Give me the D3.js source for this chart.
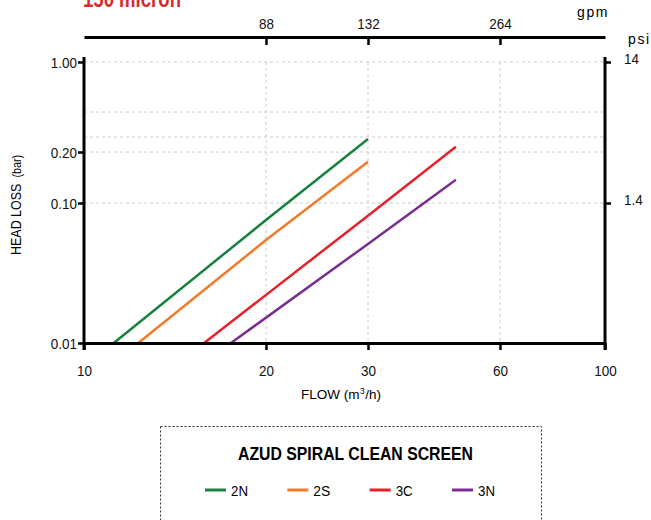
<!DOCTYPE html>
<html><head><meta charset="utf-8">
<script src="https://cdn.jsdelivr.net/npm/d3@7"></script>
<style>
body{margin:0;background:#fff;}
svg{display:block;font-family:"Liberation Sans","Roboto",sans-serif;}
</style></head><body>
<script>
// ---- data ----
const xTicks = [10, 20, 30, 60, 100];
const gpmTicks = [{v:20,label:"88"},{v:30,label:"132"},{v:60,label:"264"}];
const yTicks = [0.01, 0.1, 0.2, 1];
const yTickLabels = ["0.01","0.10","0.20","1.00"];
const yGrid = [0.1, 0.2, 0.25, 0.4, 1];
const psiTicks = [{v:0.1,label:"1.4"},{v:1,label:"14"}];
const seriesNames = ["2N","2S","3C","3N"];
const seriesColors = ["#17823f","#f47a2b","#e8202a","#7a2e8e"];
const flow2N = [11.2, 20, 30];   const loss2N = [0.01, 0.0756, 0.243];
const flow2S = [12.3, 20, 30];   const loss2S = [0.01, 0.0544, 0.175];
const flow3C = [15.8, 30, 47.6]; const loss3C = [0.01, 0.0812, 0.216];
const flow3N = [17.5, 30, 47.6]; const loss3N = [0.01, 0.051, 0.137];
const series = [
  {name:"2N", x:flow2N, y:loss2N},
  {name:"2S", x:flow2S, y:loss2S},
  {name:"3C", x:flow3C, y:loss3C},
  {name:"3N", x:flow3N, y:loss3N}
];

const W=651,H=520;
const svg=d3.select("body").append("svg").attr("width",W).attr("height",H);

const x=d3.scaleLog().domain([10,20,30,60,100]).range([84,266,368,500,605]);
const y=d3.scaleLog().domain([0.01,0.1,0.2,0.25,0.4,1]).range([343,203,152,137,112,62]);

function condense(sel, f){
  sel.each(function(){
    const w=this.getComputedTextLength();
    d3.select(this).attr("textLength",w*f).attr("lengthAdjust","spacingAndGlyphs");
  });
}
// sequence of text pieces laid out one after another (no tspans)
function pieces(parent, x0, y0, parts, f){
  let cx=x0;
  parts.forEach(p=>{
    const t=parent.append("text").attr("x",cx).attr("y",y0+(p.dy||0)).attr("font-size",p.size).text(p.text);
    let w=t.node().getComputedTextLength();
    if(f!==1){ w*=f; t.attr("textLength",w).attr("lengthAdjust","spacingAndGlyphs"); }
    cx+=w+(p.gap||0);
  });
}

// title (cut off at top as in the reference)
svg.append("text").attr("x",83).attr("y",7).attr("fill","#d52b2f")
  .attr("font-size",24).attr("font-weight","bold")
  .attr("textLength",98).attr("lengthAdjust","spacingAndGlyphs").text("150 micron");

// grid
const g=svg.append("g");
g.selectAll("line.hg").data(yGrid).join("line")
  .attr("x1",84).attr("x2",605).attr("y1",d=>y(d)).attr("y2",d=>y(d))
  .attr("stroke","#ccc").attr("stroke-width",1).attr("stroke-dasharray","3,3");
g.selectAll("line.vg").data([20,30,60]).join("line")
  .attr("y1",62).attr("y2",343).attr("x1",d=>x(d)).attr("x2",d=>x(d))
  .attr("stroke","#ccc").attr("stroke-width",1).attr("stroke-dasharray","3,3");

// series
const line=d3.line().x(d=>x(d[0])).y(d=>y(d[1]));
series.forEach((s,i)=>{
  svg.append("path").datum(s.x.map((v,j)=>[v,s.y[j]]))
    .attr("d",line).attr("fill","none").attr("stroke",seriesColors[i]).attr("stroke-width",2.5);
});

// bottom axis
const bx=svg.append("g").attr("transform","translate(0,343)")
  .call(d3.axisBottom(x).tickValues(xTicks).tickFormat(d3.format("d")).tickSize(7).tickSizeOuter(0));
bx.select(".domain").attr("stroke-width",3);
bx.selectAll(".tick line").attr("stroke-width",2.5);
bx.selectAll(".tick text").attr("font-size",15.5).attr("y",33).attr("dy","0").attr("fill","#111");

// left axis
const ly=svg.append("g").attr("transform","translate(84,0)")
  .call(d3.axisLeft(y).tickValues(yTicks).tickFormat((d,i)=>yTickLabels[i]).tickSize(6).tickSizeOuter(0));
ly.select(".domain").attr("d","M0,57V350").attr("stroke-width",3);
ly.selectAll(".tick line").attr("stroke-width",2.5);
ly.selectAll(".tick text").attr("font-size",15.5).attr("fill","#111").attr("x",-7).attr("dy","0.36em");

// right axis
const ry=svg.append("g").attr("transform","translate(605,0)")
  .call(d3.axisRight(y).tickValues(psiTicks.map(d=>d.v)).tickFormat((d,i)=>psiTicks[i].label).tickSize(6).tickSizeOuter(0));
ry.select(".domain").attr("d","M0,57V350").attr("stroke-width",3);
ry.selectAll(".tick line").attr("stroke-width",2.5);
ry.selectAll(".tick text").attr("font-size",15.5).attr("fill","#111").attr("x",19).attr("dy","0.1em");

// top gpm axis
const tx=svg.append("g").attr("transform","translate(0,37)")
  .call(d3.axisBottom(x).tickValues(gpmTicks.map(d=>d.v)).tickFormat((d,i)=>gpmTicks[i].label).tickSize(8).tickSizeOuter(0));
tx.select(".domain").attr("stroke-width",3);
tx.selectAll(".tick line").attr("stroke-width",2.5);
tx.selectAll(".tick text").attr("font-size",15.5).attr("fill","#111").attr("y",-8).attr("dy","0");

condense(svg.selectAll(".tick text"),0.87);

svg.append("text").attr("x",577).attr("y",17).attr("font-size",14).attr("letter-spacing","1.6").text("gpm");
svg.append("text").attr("x",628).attr("y",44).attr("font-size",14).attr("letter-spacing","1.6").text("psi");

// axis titles
pieces(svg, 301, 399, [
  {text:"FLOW (m", size:13.5, gap:0.5},
  {text:"3", size:8.5, dy:-5, gap:0.5},
  {text:"/h)", size:13.5}
], 1);
const yl=svg.append("g").attr("transform","translate(21,255) rotate(-90)");
pieces(yl, 0, 0, [
  {text:"HEAD LOSS", size:14.5, gap:6},
  {text:"(bar)", size:12.5}
], 0.86);

// legend
svg.append("rect").attr("x",160.5).attr("y",426.5).attr("width",381).attr("height",110)
  .attr("fill","none").attr("stroke","#333").attr("stroke-width",1).attr("stroke-dasharray","2,2");
svg.append("text").attr("x",238).attr("y",460).attr("font-size",19).attr("font-weight","bold")
  .attr("textLength",235).attr("lengthAdjust","spacingAndGlyphs").text("AZUD SPIRAL CLEAN SCREEN");
const lx=d3.scalePoint().domain(seriesNames).range([205,452]);
const li=svg.selectAll("g.leg").data(seriesNames).join("g").attr("transform",d=>`translate(${lx(d)},490)`);
li.append("line").attr("x1",0).attr("x2",21).attr("stroke",(d,i)=>seriesColors[i]).attr("stroke-width",3);
li.append("text").attr("x",26).attr("y",6).attr("font-size",14).attr("textLength",17).attr("lengthAdjust","spacingAndGlyphs").text(d=>d);
</script>
</body></html>
